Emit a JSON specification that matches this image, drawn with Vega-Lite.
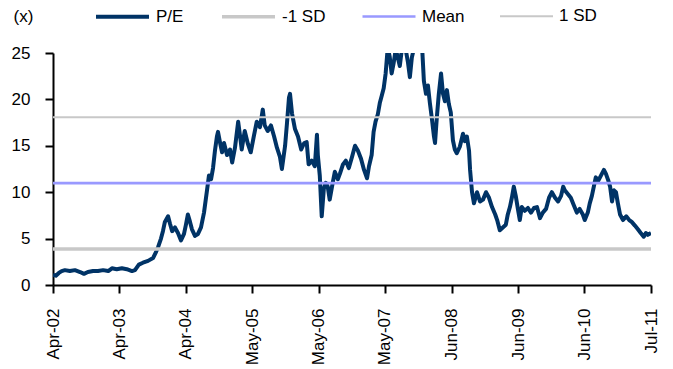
{
  "$schema": "https://vega.github.io/schema/vega-lite/v6.json",
  "width": 598,
  "height": 232,
  "autosize": {"type": "none"},
  "padding": {"left": 53, "top": 53, "right": 22, "bottom": 84},
  "config": {
    "view": {"stroke": null},
    "font": "Liberation Sans",
    "axis": {
      "labelFont": "Liberation Sans",
      "labelFontSize": 17,
      "labelColor": "#000000",
      "domainColor": "#000000",
      "domainWidth": 2,
      "tickColor": "#000000",
      "tickWidth": 2,
      "tickSize": 8,
      "grid": false
    },
    "legend": {
      "labelFont": "Liberation Sans",
      "labelFontSize": 17,
      "labelColor": "#000000"
    }
  },
  "datasets": {
    "pe": [
      {"date": "2002-04-01", "series": "P/E", "value": 1.1},
      {"date": "2002-04-17", "series": "P/E", "value": 1.0},
      {"date": "2002-05-04", "series": "P/E", "value": 1.3},
      {"date": "2002-05-20", "series": "P/E", "value": 1.5},
      {"date": "2002-06-07", "series": "P/E", "value": 1.6},
      {"date": "2002-07-05", "series": "P/E", "value": 1.5},
      {"date": "2002-08-03", "series": "P/E", "value": 1.6},
      {"date": "2002-09-01", "series": "P/E", "value": 1.4},
      {"date": "2002-09-23", "series": "P/E", "value": 1.2},
      {"date": "2002-10-15", "series": "P/E", "value": 1.4},
      {"date": "2002-11-13", "series": "P/E", "value": 1.5},
      {"date": "2002-12-11", "series": "P/E", "value": 1.5},
      {"date": "2003-01-09", "series": "P/E", "value": 1.6},
      {"date": "2003-02-07", "series": "P/E", "value": 1.5},
      {"date": "2003-02-28", "series": "P/E", "value": 1.8},
      {"date": "2003-03-27", "series": "P/E", "value": 1.7},
      {"date": "2003-04-25", "series": "P/E", "value": 1.8},
      {"date": "2003-05-23", "series": "P/E", "value": 1.7},
      {"date": "2003-06-21", "series": "P/E", "value": 1.5},
      {"date": "2003-07-08", "series": "P/E", "value": 1.6},
      {"date": "2003-07-30", "series": "P/E", "value": 2.2},
      {"date": "2003-08-22", "series": "P/E", "value": 2.4},
      {"date": "2003-09-20", "series": "P/E", "value": 2.6},
      {"date": "2003-10-18", "series": "P/E", "value": 2.9},
      {"date": "2003-11-05", "series": "P/E", "value": 3.6},
      {"date": "2003-11-16", "series": "P/E", "value": 4.1},
      {"date": "2003-12-02", "series": "P/E", "value": 5.0},
      {"date": "2003-12-13", "series": "P/E", "value": 5.8},
      {"date": "2003-12-24", "series": "P/E", "value": 6.8},
      {"date": "2004-01-11", "series": "P/E", "value": 7.4},
      {"date": "2004-01-22", "series": "P/E", "value": 6.6},
      {"date": "2004-02-03", "series": "P/E", "value": 5.8},
      {"date": "2004-02-19", "series": "P/E", "value": 6.2},
      {"date": "2004-03-07", "series": "P/E", "value": 5.6},
      {"date": "2004-03-24", "series": "P/E", "value": 4.8},
      {"date": "2004-04-10", "series": "P/E", "value": 5.5},
      {"date": "2004-04-21", "series": "P/E", "value": 6.5},
      {"date": "2004-05-02", "series": "P/E", "value": 7.6},
      {"date": "2004-05-14", "series": "P/E", "value": 6.8},
      {"date": "2004-05-25", "series": "P/E", "value": 6.0},
      {"date": "2004-06-11", "series": "P/E", "value": 5.3},
      {"date": "2004-06-28", "series": "P/E", "value": 5.5},
      {"date": "2004-07-15", "series": "P/E", "value": 6.2},
      {"date": "2004-08-01", "series": "P/E", "value": 7.8},
      {"date": "2004-08-18", "series": "P/E", "value": 10.2},
      {"date": "2004-08-29", "series": "P/E", "value": 11.8},
      {"date": "2004-09-10", "series": "P/E", "value": 11.4},
      {"date": "2004-09-21", "series": "P/E", "value": 12.6},
      {"date": "2004-10-02", "series": "P/E", "value": 14.5},
      {"date": "2004-10-13", "series": "P/E", "value": 16.0},
      {"date": "2004-10-19", "series": "P/E", "value": 16.5},
      {"date": "2004-11-01", "series": "P/E", "value": 15.2},
      {"date": "2004-11-11", "series": "P/E", "value": 14.3},
      {"date": "2004-11-22", "series": "P/E", "value": 15.3},
      {"date": "2004-12-09", "series": "P/E", "value": 14.0},
      {"date": "2004-12-26", "series": "P/E", "value": 14.6},
      {"date": "2005-01-07", "series": "P/E", "value": 13.2},
      {"date": "2005-01-23", "series": "P/E", "value": 14.8},
      {"date": "2005-02-10", "series": "P/E", "value": 17.6},
      {"date": "2005-02-21", "series": "P/E", "value": 16.0},
      {"date": "2005-03-02", "series": "P/E", "value": 14.6},
      {"date": "2005-03-19", "series": "P/E", "value": 16.6},
      {"date": "2005-04-06", "series": "P/E", "value": 15.2},
      {"date": "2005-04-22", "series": "P/E", "value": 14.3},
      {"date": "2005-05-09", "series": "P/E", "value": 16.0},
      {"date": "2005-05-26", "series": "P/E", "value": 17.6},
      {"date": "2005-06-13", "series": "P/E", "value": 17.0},
      {"date": "2005-06-29", "series": "P/E", "value": 18.9},
      {"date": "2005-07-10", "series": "P/E", "value": 17.2},
      {"date": "2005-07-27", "series": "P/E", "value": 16.6},
      {"date": "2005-08-14", "series": "P/E", "value": 17.2},
      {"date": "2005-09-01", "series": "P/E", "value": 16.0},
      {"date": "2005-09-17", "series": "P/E", "value": 14.8},
      {"date": "2005-10-04", "series": "P/E", "value": 13.8},
      {"date": "2005-10-15", "series": "P/E", "value": 12.5},
      {"date": "2005-11-02", "series": "P/E", "value": 15.0},
      {"date": "2005-11-13", "series": "P/E", "value": 17.5},
      {"date": "2005-11-24", "series": "P/E", "value": 20.2},
      {"date": "2005-11-30", "series": "P/E", "value": 20.6},
      {"date": "2005-12-11", "series": "P/E", "value": 18.5},
      {"date": "2005-12-28", "series": "P/E", "value": 16.8},
      {"date": "2006-01-14", "series": "P/E", "value": 16.0},
      {"date": "2006-02-01", "series": "P/E", "value": 14.6},
      {"date": "2006-02-18", "series": "P/E", "value": 15.3},
      {"date": "2006-03-04", "series": "P/E", "value": 15.4},
      {"date": "2006-03-15", "series": "P/E", "value": 13.0},
      {"date": "2006-04-02", "series": "P/E", "value": 13.4},
      {"date": "2006-04-19", "series": "P/E", "value": 12.8},
      {"date": "2006-05-01", "series": "P/E", "value": 16.2},
      {"date": "2006-05-06", "series": "P/E", "value": 14.0},
      {"date": "2006-05-17", "series": "P/E", "value": 11.8},
      {"date": "2006-05-28", "series": "P/E", "value": 7.4},
      {"date": "2006-06-09", "series": "P/E", "value": 10.4},
      {"date": "2006-06-20", "series": "P/E", "value": 11.0},
      {"date": "2006-07-01", "series": "P/E", "value": 10.6},
      {"date": "2006-07-12", "series": "P/E", "value": 9.2},
      {"date": "2006-07-29", "series": "P/E", "value": 11.0},
      {"date": "2006-08-10", "series": "P/E", "value": 12.2},
      {"date": "2006-08-27", "series": "P/E", "value": 11.4},
      {"date": "2006-09-08", "series": "P/E", "value": 12.0},
      {"date": "2006-09-25", "series": "P/E", "value": 13.0},
      {"date": "2006-10-11", "series": "P/E", "value": 13.4},
      {"date": "2006-10-28", "series": "P/E", "value": 12.6},
      {"date": "2006-11-15", "series": "P/E", "value": 13.8},
      {"date": "2006-12-02", "series": "P/E", "value": 15.0},
      {"date": "2006-12-18", "series": "P/E", "value": 14.5},
      {"date": "2007-01-05", "series": "P/E", "value": 13.6},
      {"date": "2007-01-22", "series": "P/E", "value": 12.4},
      {"date": "2007-02-08", "series": "P/E", "value": 11.5},
      {"date": "2007-02-19", "series": "P/E", "value": 12.8},
      {"date": "2007-03-06", "series": "P/E", "value": 14.0},
      {"date": "2007-03-17", "series": "P/E", "value": 16.5},
      {"date": "2007-03-28", "series": "P/E", "value": 17.6},
      {"date": "2007-04-10", "series": "P/E", "value": 18.4},
      {"date": "2007-04-21", "series": "P/E", "value": 19.6},
      {"date": "2007-05-02", "series": "P/E", "value": 20.4},
      {"date": "2007-05-13", "series": "P/E", "value": 21.2},
      {"date": "2007-05-24", "series": "P/E", "value": 22.8},
      {"date": "2007-06-05", "series": "P/E", "value": 25.6},
      {"date": "2007-06-16", "series": "P/E", "value": 24.6},
      {"date": "2007-06-27", "series": "P/E", "value": 22.8},
      {"date": "2007-07-09", "series": "P/E", "value": 24.0},
      {"date": "2007-07-20", "series": "P/E", "value": 25.4},
      {"date": "2007-08-01", "series": "P/E", "value": 24.5},
      {"date": "2007-08-12", "series": "P/E", "value": 23.6},
      {"date": "2007-08-23", "series": "P/E", "value": 25.3},
      {"date": "2007-09-05", "series": "P/E", "value": 25.8},
      {"date": "2007-09-16", "series": "P/E", "value": 25.2},
      {"date": "2007-09-27", "series": "P/E", "value": 24.0},
      {"date": "2007-10-08", "series": "P/E", "value": 22.4},
      {"date": "2007-10-19", "series": "P/E", "value": 24.5},
      {"date": "2007-11-01", "series": "P/E", "value": 25.6},
      {"date": "2007-11-12", "series": "P/E", "value": 26.5},
      {"date": "2007-11-28", "series": "P/E", "value": 27.0},
      {"date": "2007-12-15", "series": "P/E", "value": 26.0},
      {"date": "2007-12-26", "series": "P/E", "value": 22.0},
      {"date": "2008-01-07", "series": "P/E", "value": 20.6},
      {"date": "2008-01-18", "series": "P/E", "value": 21.5},
      {"date": "2008-01-29", "series": "P/E", "value": 19.6},
      {"date": "2008-02-10", "series": "P/E", "value": 17.8},
      {"date": "2008-02-21", "series": "P/E", "value": 16.0},
      {"date": "2008-02-27", "series": "P/E", "value": 15.3},
      {"date": "2008-03-08", "series": "P/E", "value": 18.0},
      {"date": "2008-03-19", "series": "P/E", "value": 20.5},
      {"date": "2008-04-01", "series": "P/E", "value": 22.8},
      {"date": "2008-04-12", "series": "P/E", "value": 20.6},
      {"date": "2008-04-23", "series": "P/E", "value": 19.8},
      {"date": "2008-05-04", "series": "P/E", "value": 21.0},
      {"date": "2008-05-15", "series": "P/E", "value": 19.5},
      {"date": "2008-05-26", "series": "P/E", "value": 18.6},
      {"date": "2008-06-07", "series": "P/E", "value": 15.6},
      {"date": "2008-06-18", "series": "P/E", "value": 14.6},
      {"date": "2008-06-29", "series": "P/E", "value": 14.2},
      {"date": "2008-07-16", "series": "P/E", "value": 14.9},
      {"date": "2008-08-03", "series": "P/E", "value": 16.3},
      {"date": "2008-08-14", "series": "P/E", "value": 15.5},
      {"date": "2008-08-25", "series": "P/E", "value": 16.0},
      {"date": "2008-09-06", "series": "P/E", "value": 14.5},
      {"date": "2008-09-12", "series": "P/E", "value": 12.4},
      {"date": "2008-09-23", "series": "P/E", "value": 10.0},
      {"date": "2008-10-04", "series": "P/E", "value": 8.8},
      {"date": "2008-10-21", "series": "P/E", "value": 10.0},
      {"date": "2008-11-07", "series": "P/E", "value": 9.0},
      {"date": "2008-11-24", "series": "P/E", "value": 9.2},
      {"date": "2008-12-11", "series": "P/E", "value": 10.0},
      {"date": "2008-12-28", "series": "P/E", "value": 9.4},
      {"date": "2009-01-14", "series": "P/E", "value": 8.4},
      {"date": "2009-02-01", "series": "P/E", "value": 7.6},
      {"date": "2009-02-12", "series": "P/E", "value": 7.0},
      {"date": "2009-02-27", "series": "P/E", "value": 5.9},
      {"date": "2009-03-16", "series": "P/E", "value": 6.2},
      {"date": "2009-04-02", "series": "P/E", "value": 6.5},
      {"date": "2009-04-13", "series": "P/E", "value": 7.6},
      {"date": "2009-04-25", "series": "P/E", "value": 8.4},
      {"date": "2009-05-06", "series": "P/E", "value": 9.4},
      {"date": "2009-05-17", "series": "P/E", "value": 10.6},
      {"date": "2009-05-28", "series": "P/E", "value": 9.6},
      {"date": "2009-06-09", "series": "P/E", "value": 8.2},
      {"date": "2009-06-20", "series": "P/E", "value": 7.0},
      {"date": "2009-07-01", "series": "P/E", "value": 8.4},
      {"date": "2009-07-18", "series": "P/E", "value": 8.0},
      {"date": "2009-08-05", "series": "P/E", "value": 8.3},
      {"date": "2009-08-22", "series": "P/E", "value": 7.8},
      {"date": "2009-09-08", "series": "P/E", "value": 8.3},
      {"date": "2009-09-25", "series": "P/E", "value": 8.4},
      {"date": "2009-10-12", "series": "P/E", "value": 7.2},
      {"date": "2009-10-28", "series": "P/E", "value": 7.8},
      {"date": "2009-11-15", "series": "P/E", "value": 8.2},
      {"date": "2009-12-02", "series": "P/E", "value": 9.4},
      {"date": "2009-12-18", "series": "P/E", "value": 10.0},
      {"date": "2010-01-05", "series": "P/E", "value": 9.4},
      {"date": "2010-01-22", "series": "P/E", "value": 9.0},
      {"date": "2010-02-08", "series": "P/E", "value": 9.6},
      {"date": "2010-02-20", "series": "P/E", "value": 10.6},
      {"date": "2010-03-01", "series": "P/E", "value": 10.2},
      {"date": "2010-03-18", "series": "P/E", "value": 9.8},
      {"date": "2010-04-04", "series": "P/E", "value": 9.4},
      {"date": "2010-04-21", "series": "P/E", "value": 8.6},
      {"date": "2010-05-08", "series": "P/E", "value": 7.8},
      {"date": "2010-05-24", "series": "P/E", "value": 8.2},
      {"date": "2010-06-11", "series": "P/E", "value": 7.6},
      {"date": "2010-06-22", "series": "P/E", "value": 7.0},
      {"date": "2010-07-09", "series": "P/E", "value": 7.8},
      {"date": "2010-07-20", "series": "P/E", "value": 8.8},
      {"date": "2010-08-01", "series": "P/E", "value": 9.6},
      {"date": "2010-08-12", "series": "P/E", "value": 10.6},
      {"date": "2010-08-23", "series": "P/E", "value": 11.6},
      {"date": "2010-09-05", "series": "P/E", "value": 11.2},
      {"date": "2010-09-16", "series": "P/E", "value": 11.6},
      {"date": "2010-09-27", "series": "P/E", "value": 12.0},
      {"date": "2010-10-08", "series": "P/E", "value": 12.4},
      {"date": "2010-10-19", "series": "P/E", "value": 12.0},
      {"date": "2010-11-01", "series": "P/E", "value": 11.3},
      {"date": "2010-11-12", "series": "P/E", "value": 10.6},
      {"date": "2010-11-23", "series": "P/E", "value": 9.0},
      {"date": "2010-12-04", "series": "P/E", "value": 10.2},
      {"date": "2010-12-15", "series": "P/E", "value": 10.0},
      {"date": "2010-12-26", "series": "P/E", "value": 8.8},
      {"date": "2011-01-07", "series": "P/E", "value": 7.6},
      {"date": "2011-01-24", "series": "P/E", "value": 7.0},
      {"date": "2011-02-11", "series": "P/E", "value": 7.4},
      {"date": "2011-02-28", "series": "P/E", "value": 7.0},
      {"date": "2011-03-14", "series": "P/E", "value": 6.8},
      {"date": "2011-04-01", "series": "P/E", "value": 6.4},
      {"date": "2011-04-18", "series": "P/E", "value": 6.0},
      {"date": "2011-05-04", "series": "P/E", "value": 5.6},
      {"date": "2011-05-21", "series": "P/E", "value": 5.2},
      {"date": "2011-06-02", "series": "P/E", "value": 5.6},
      {"date": "2011-06-13", "series": "P/E", "value": 5.4},
      {"date": "2011-07-01", "series": "P/E", "value": 5.6}
    ],
    "bands": [
      {"date": "2002-04-01", "series": "-1 SD", "value": 3.88},
      {"date": "2011-07-01", "series": "-1 SD", "value": 3.88},
      {"date": "2002-04-01", "series": "Mean", "value": 10.98},
      {"date": "2011-07-01", "series": "Mean", "value": 10.98},
      {"date": "2002-04-01", "series": "1 SD", "value": 18.08},
      {"date": "2011-07-01", "series": "1 SD", "value": 18.08}
    ]
  },
  "encoding": {
    "x": {
      "field": "date",
      "type": "temporal",
      "scale": {
        "type": "utc",
        "domain": [
          {"year": 2002, "month": 4, "date": 1, "utc": true},
          {"year": 2011, "month": 7, "date": 1, "utc": true}
        ]
      },
      "axis": {
        "title": null,
        "values": [
          {"year": 2002, "month": 4, "date": 1, "utc": true},
          {"year": 2003, "month": 4, "date": 10, "utc": true},
          {"year": 2004, "month": 4, "date": 20, "utc": true},
          {"year": 2005, "month": 5, "date": 1, "utc": true},
          {"year": 2006, "month": 5, "date": 10, "utc": true},
          {"year": 2007, "month": 5, "date": 20, "utc": true},
          {"year": 2008, "month": 6, "date": 1, "utc": true},
          {"year": 2009, "month": 6, "date": 10, "utc": true},
          {"year": 2010, "month": 6, "date": 20, "utc": true},
          {"year": 2011, "month": 7, "date": 1, "utc": true}
        ],
        "labelExpr": "utcFormat(datum.value, '%b-%y')",
        "labelAngle": -90,
        "labelAlign": "right",
        "labelBaseline": "middle",
        "labelPadding": 15,
        "labelFlush": false,
        "labelOverlap": false
      }
    },
    "y": {
      "field": "value",
      "type": "quantitative",
      "scale": {"domain": [0, 25], "nice": false, "zero": true},
      "axis": {
        "values": [0, 5, 10, 15, 20, 25],
        "title": "(x)",
        "titleAngle": 0,
        "titleAlign": "left",
        "titleBaseline": "middle",
        "titleX": -40,
        "titleY": -37,
        "titleFont": "Liberation Sans",
        "titleFontSize": 17,
        "titleFontWeight": "normal",
        "titleColor": "#000000",
        "labelPadding": 15
      }
    },
    "color": {
      "field": "series",
      "type": "nominal",
      "scale": {
        "domain": ["P/E", "-1 SD", "Mean", "1 SD"],
        "range": ["#003366", "#c8c8c8", "#9999ff", "#c8c8c8"]
      },
      "legend": {
        "title": null,
        "orient": "none",
        "direction": "horizontal",
        "legendX": 41,
        "legendY": -65,
        "symbolType": "stroke",
        "symbolSize": 2809,
        "labelOffset": 5,
        "columnPadding": 31
      }
    },
    "strokeWidth": {
      "field": "series",
      "type": "nominal",
      "scale": {
        "domain": ["P/E", "-1 SD", "Mean", "1 SD"],
        "range": [4, 2, 2, 2]
      },
      "legend": {
        "title": null,
        "orient": "none",
        "direction": "horizontal",
        "legendX": 41,
        "legendY": -65,
        "symbolType": "stroke",
        "symbolSize": 2809,
        "labelOffset": 5,
        "columnPadding": 31
      }
    }
  },
  "layer": [
    {
      "data": {"name": "pe"},
      "mark": {"type": "line", "clip": true, "strokeJoin": "round"}
    },
    {
      "data": {"name": "bands"},
      "mark": {"type": "line", "clip": true}
    }
  ]
}
